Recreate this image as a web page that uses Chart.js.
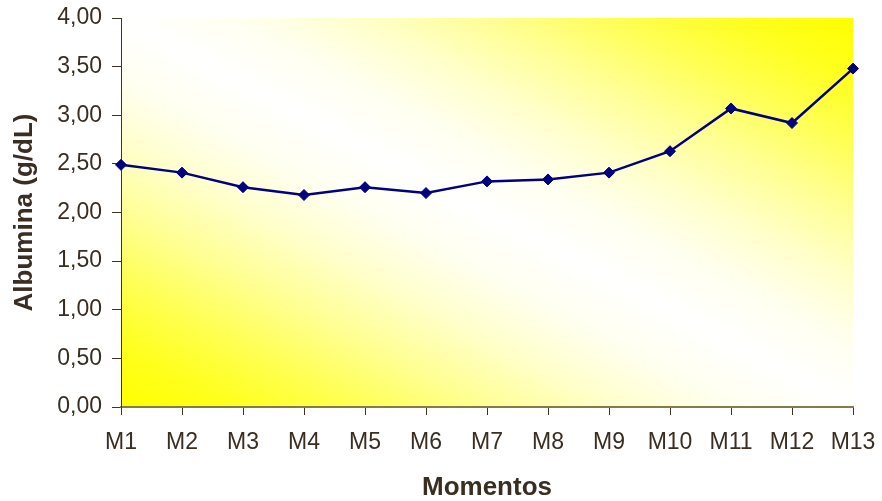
<!DOCTYPE html>
<html>
<head>
<meta charset="utf-8">
<style>
  html, body { margin: 0; padding: 0; background: #ffffff; }
  #wrap { width: 882px; height: 501px; position: relative; }
</style>
<script src="https://cdn.jsdelivr.net/npm/chart.js@4/dist/chart.umd.min.js"></script>
</head>
<body>
<div id="wrap"><canvas id="chart" width="882" height="501"></canvas></div>
<script>
// Serum albumin (g/dL) at each sampling moment
const categories = ['M1','M2','M3','M4','M5','M6','M7','M8','M9','M10','M11','M12','M13'];
const albumina = [2.49, 2.41, 2.26, 2.18, 2.26, 2.20, 2.32, 2.34, 2.41, 2.63, 3.07, 2.92, 3.48];
const yTicks = [0, 0.5, 1, 1.5, 2, 2.5, 3, 3.5, 4];

const textColor = '#3a2e22';
const axisColor = '#3e3424';
const FONT = 'Liberation Sans, Arial, sans-serif';

// Diagonal yellow-white-yellow fill behind the plot area; the bands run
// parallel to the top-left / bottom-right diagonal.
const plotBackground = {
  id: 'plotBackground',
  beforeDraw(chart) {
    const { ctx, chartArea: a } = chart;
    const w = a.right - a.left, h = a.bottom - a.top;
    const cx = (a.left + a.right) / 2, cy = (a.top + a.bottom) / 2;
    const nx = h, ny = -w;
    const k = (w * h) / (nx * nx + ny * ny);
    const g = ctx.createLinearGradient(cx - k * nx, cy - k * ny, cx + k * nx, cy + k * ny);
    // whiteness profile from a corner (0) to the centre (0.5)
    const profile = [[0, 0], [0.08, 0.12], [0.16, 0.32], [0.25, 0.58], [0.34, 0.8], [0.42, 0.94], [0.5, 1]];
    const shade = wv => 'rgb(255,255,' + Math.round(255 * wv) + ')';
    profile.forEach(([t, wv]) => g.addColorStop(t, shade(wv)));
    profile.slice().reverse().forEach(([t, wv]) => { if (t < 0.5) g.addColorStop(1 - t, shade(wv)); });
    ctx.save();
    ctx.fillStyle = g;
    ctx.fillRect(a.left, a.top, w, h);
    ctx.restore();
  }
};

new Chart(document.getElementById('chart'), {
  type: 'line',
  data: {
    labels: categories,
    datasets: [{
      data: albumina,
      borderColor: '#000080',
      backgroundColor: '#000080',
      borderWidth: 2.5,
      pointStyle: 'rectRot',
      pointRadius: 5.5,
      pointHoverRadius: 5.5,
      pointBorderWidth: 1,
      tension: 0,
      fill: false
    }]
  },
  options: {
    responsive: false,
    animation: false,
    layout: { autoPadding: false, padding: { left: 0, top: 18, right: 29, bottom: 0 } },
    plugins: {
      legend: { display: false },
      tooltip: { enabled: false }
    },
    scales: {
      x: {
        offset: false,
        grid: {
          display: true,
          drawOnChartArea: false,
          drawTicks: true,
          tickLength: 8,
          color: axisColor
        },
        border: { display: true, color: '#857a4a', width: 2 },
        ticks: {
          color: textColor,
          font: { family: FONT, size: 23 },
          padding: 14,
          maxRotation: 0,
          autoSkip: false
        },
        title: {
          display: true,
          text: 'Momentos',
          color: textColor,
          font: { family: FONT, size: 26, weight: 'bold', lineHeight: 1 },
          padding: { top: 0, bottom: 0 }
        },
        afterFit(scale) {
          scale.height = 94;
          scale.paddingLeft = 0;
          scale.paddingRight = 0;
        }
      },
      y: {
        min: 0,
        max: 4,
        afterBuildTicks(scale) { scale.ticks = yTicks.map(v => ({ value: v })); },
        grid: {
          display: true,
          drawOnChartArea: false,
          drawTicks: true,
          tickLength: 9,
          color: axisColor
        },
        border: { display: true, color: axisColor, width: 1 },
        ticks: {
          color: textColor,
          font: { family: FONT, size: 23 },
          padding: 10,
          callback: v => v.toFixed(2).replace('.', ',')
        },
        title: {
          display: true,
          text: 'Albumina (g/dL)',
          color: textColor,
          font: { family: FONT, size: 26, weight: 'bold', lineHeight: 1 },
          padding: { top: 12, bottom: 0 }
        },
        afterFit(scale) {
          scale.width = 121;
          scale.paddingTop = 0;
          scale.paddingBottom = 0;
        }
      }
    }
  },
  plugins: [plotBackground]
});
</script>
</body>
</html>
